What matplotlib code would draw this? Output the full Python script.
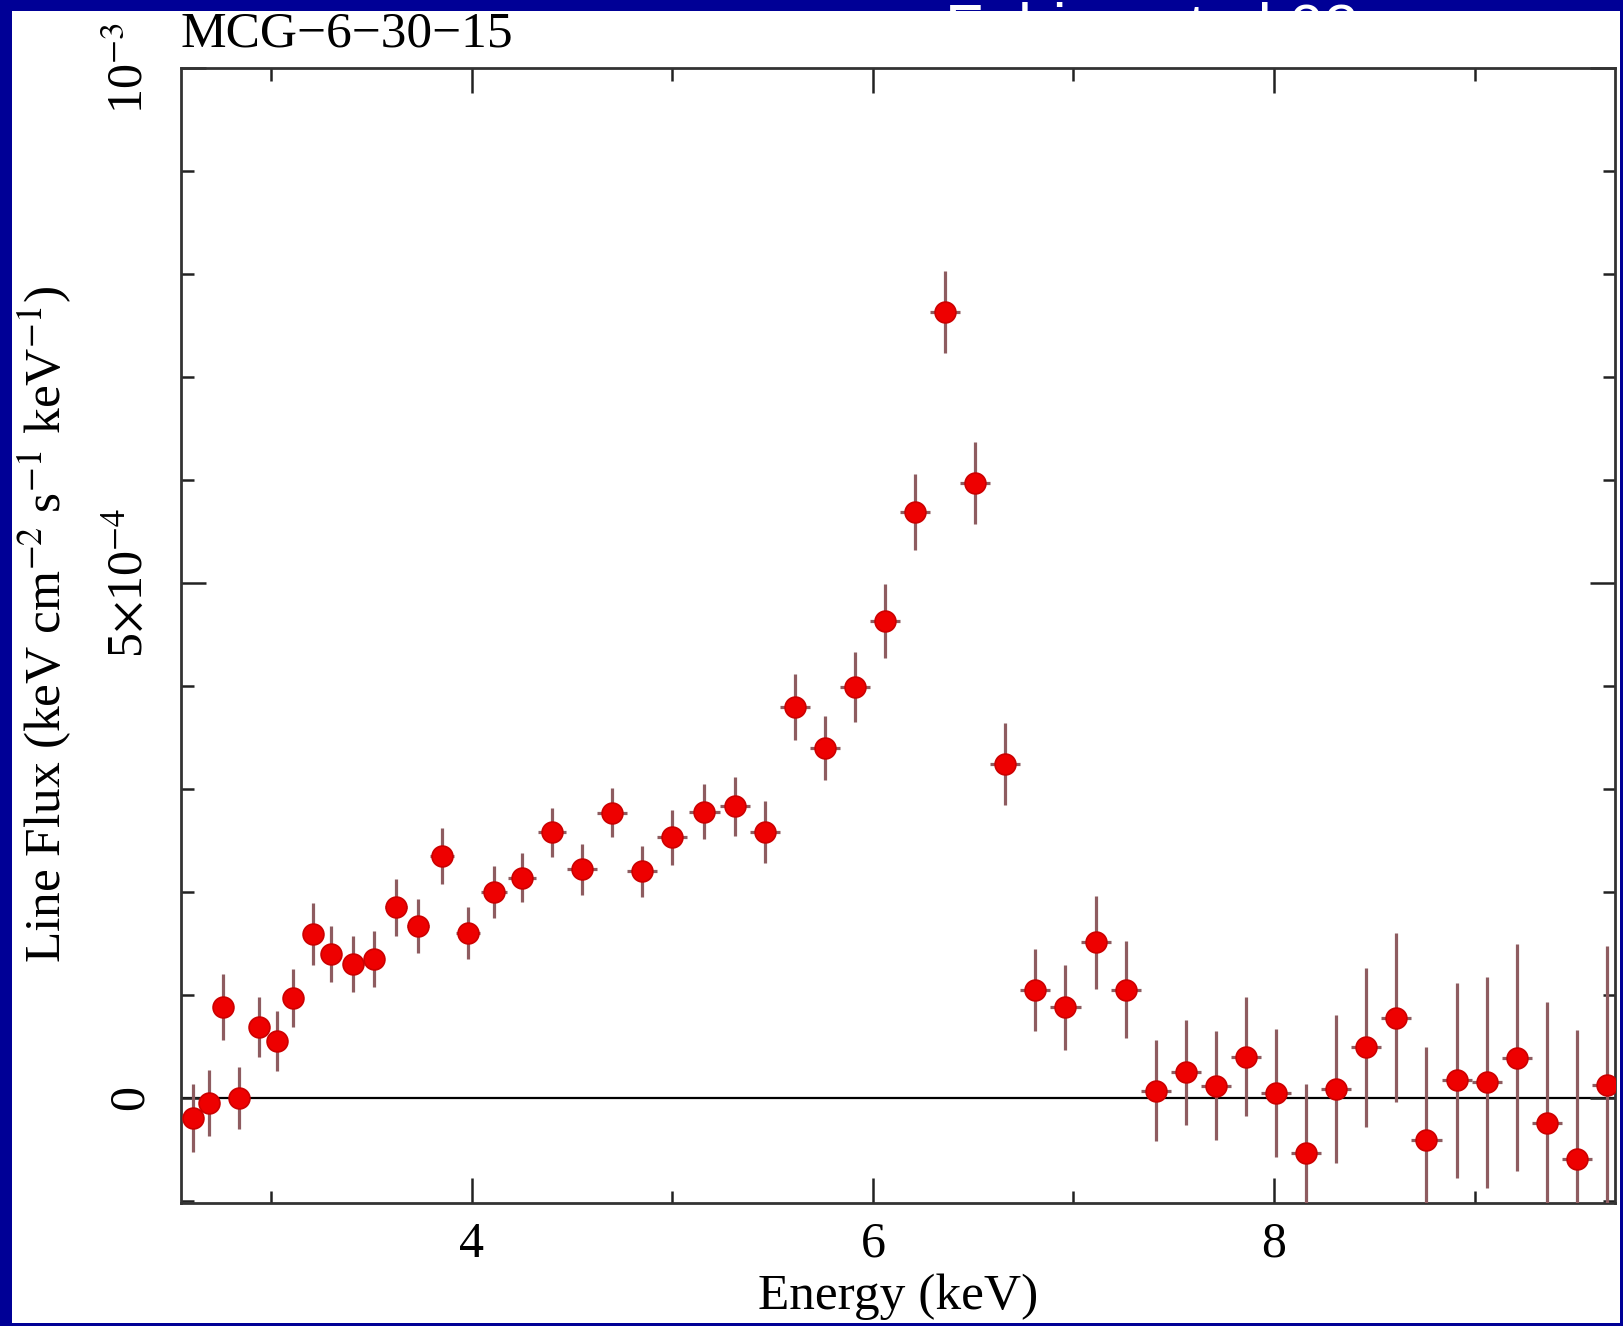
import numpy as np
import matplotlib
matplotlib.use('Agg')
import matplotlib.pyplot as plt
from matplotlib.patches import Rectangle
from matplotlib.ticker import MultipleLocator, FixedLocator, FixedFormatter

# line flux residuals, MCG-6-30-15 (flux in units of 1e-4)
energy = [2.61, 2.69, 2.76, 2.84, 2.94, 3.03, 3.11, 3.21, 3.30, 3.41,
          3.51, 3.62, 3.73, 3.85, 3.98, 4.11, 4.25, 4.40, 4.55, 4.70,
          4.85, 5.00, 5.16, 5.31, 5.46, 5.61, 5.76, 5.91, 6.06, 6.21,
          6.36, 6.51, 6.66, 6.81, 6.96, 7.11, 7.26, 7.41, 7.56, 7.71,
          7.86, 8.01, 8.16, 8.31, 8.46, 8.61, 8.76, 8.91, 9.06, 9.21,
          9.36, 9.51, 9.66]
flux = [-0.19, -0.05, 0.88, 0.00, 0.69, 0.55, 0.97, 1.59, 1.40, 1.30,
        1.35, 1.85, 1.67, 2.35, 1.60, 2.00, 2.14, 2.58, 2.22, 2.77,
        2.20, 2.53, 2.78, 2.83, 2.58, 3.80, 3.40, 3.99, 4.63, 5.69,
        7.63, 5.97, 3.24, 1.05, 0.88, 1.51, 1.05, 0.07, 0.25, 0.12,
        0.40, 0.05, -0.53, 0.09, 0.49, 0.78, -0.41, 0.17, 0.15, 0.39,
        -0.24, -0.59, 0.13]
flux_err = [0.33, 0.32, 0.32, 0.30, 0.29, 0.29, 0.28, 0.30, 0.27, 0.27,
            0.27, 0.28, 0.26, 0.27, 0.25, 0.25, 0.24, 0.24, 0.25, 0.24,
            0.25, 0.27, 0.27, 0.29, 0.30, 0.32, 0.31, 0.34, 0.36, 0.37,
            0.40, 0.40, 0.40, 0.40, 0.41, 0.45, 0.47, 0.49, 0.51, 0.53,
            0.58, 0.62, 0.67, 0.72, 0.77, 0.82, 0.90, 0.95, 1.02, 1.10,
            1.17, 1.25, 1.35]
energy_err = [0.04, 0.04, 0.04, 0.04, 0.045, 0.045, 0.045, 0.05, 0.05, 0.05,
              0.05, 0.055, 0.055, 0.06, 0.06, 0.065, 0.07, 0.07, 0.075, 0.075,
              0.075, 0.075, 0.075, 0.075, 0.075, 0.075, 0.075, 0.075, 0.075, 0.075,
              0.075, 0.075, 0.075, 0.075, 0.075, 0.075, 0.075, 0.075, 0.075, 0.075,
              0.075, 0.075, 0.075, 0.075, 0.075, 0.075, 0.075, 0.075, 0.075, 0.075,
              0.075, 0.075, 0.075]

ytick_vals = [0, 5e-4, 1e-3]
ytick_labels = ['0', r'5$\times$10$^{-4}$', r'10$^{-3}$']
xtick_vals = [4, 6, 8]

plt.rcParams['font.family'] = 'Liberation Serif'
plt.rcParams['mathtext.fontset'] = 'stix'

W, H = 1624, 1326
fig = plt.figure(figsize=(W / 100, H / 100), dpi=100, facecolor='#000096')

# slide title sitting behind the picture, only its top shows
fig.text(945 / W, 1 - 1 / H, 'Fabian et al 02', color='white', fontsize=45,
         family='Liberation Sans', ha='left', va='top', zorder=0.5)
fig.patches.append(Rectangle((12 / W, 3 / H), 1608 / W, 1312 / H,
                             transform=fig.transFigure, facecolor='white',
                             edgecolor='none', zorder=1))

ax = fig.add_axes([181 / W, 123 / H, 1434 / W, 1135 / H], zorder=2)

e = np.array(energy)
f = np.array(flux) * 1e-4
ferr = np.array(flux_err) * 1e-4
ax.axhline(0, color='black', lw=1.6, zorder=1.5)
ax.errorbar(e, f, xerr=energy_err, yerr=ferr, fmt='o', ecolor='#8e5c60',
            elinewidth=2.3, capsize=0, ms=15, mfc='#ee0000', mec='#cc0000',
            mew=1.2, zorder=3)

ax.set_xlim(2.55, 9.70)
ax.set_ylim(-1.02e-4, 1e-3)

ax.xaxis.set_major_locator(FixedLocator(xtick_vals))
ax.xaxis.set_minor_locator(MultipleLocator(1))
ax.yaxis.set_major_locator(FixedLocator(ytick_vals))
ax.yaxis.set_major_formatter(FixedFormatter(ytick_labels))
ax.yaxis.set_minor_locator(MultipleLocator(1e-4))

ax.tick_params(which='both', direction='in', top=True, right=True,
               width=1.8, color='#222222', labelsize=36)
ax.tick_params(which='major', length=18)
ax.tick_params(which='minor', length=9)
ax.tick_params(axis='x', pad=13)
ax.tick_params(axis='y', pad=20)
for lab in ax.get_yticklabels():
    lab.set_rotation(90)
    lab.set_va('center')

for spine in ax.spines.values():
    spine.set_linewidth(2)
    spine.set_color('#333333')

ax.set_xlabel('Energy (keV)', fontsize=37)
ax.xaxis.label.set_va('center')
ax.xaxis.set_label_coords(0.5, -0.083)
ax.set_ylabel(r'Line Flux (keV cm$^{-2}$ s$^{-1}$ keV$^{-1}$)', fontsize=37)
ax.yaxis.label.set_va('center')
ax.yaxis.set_label_coords(-0.095, 0.51)

ax.text(0, 1 + 34 / 1135, 'MCG\u22126\u221230\u221215', transform=ax.transAxes,
        ha='left', va='center', fontsize=37)

fig.savefig('out.png', dpi=100, facecolor=fig.get_facecolor())
